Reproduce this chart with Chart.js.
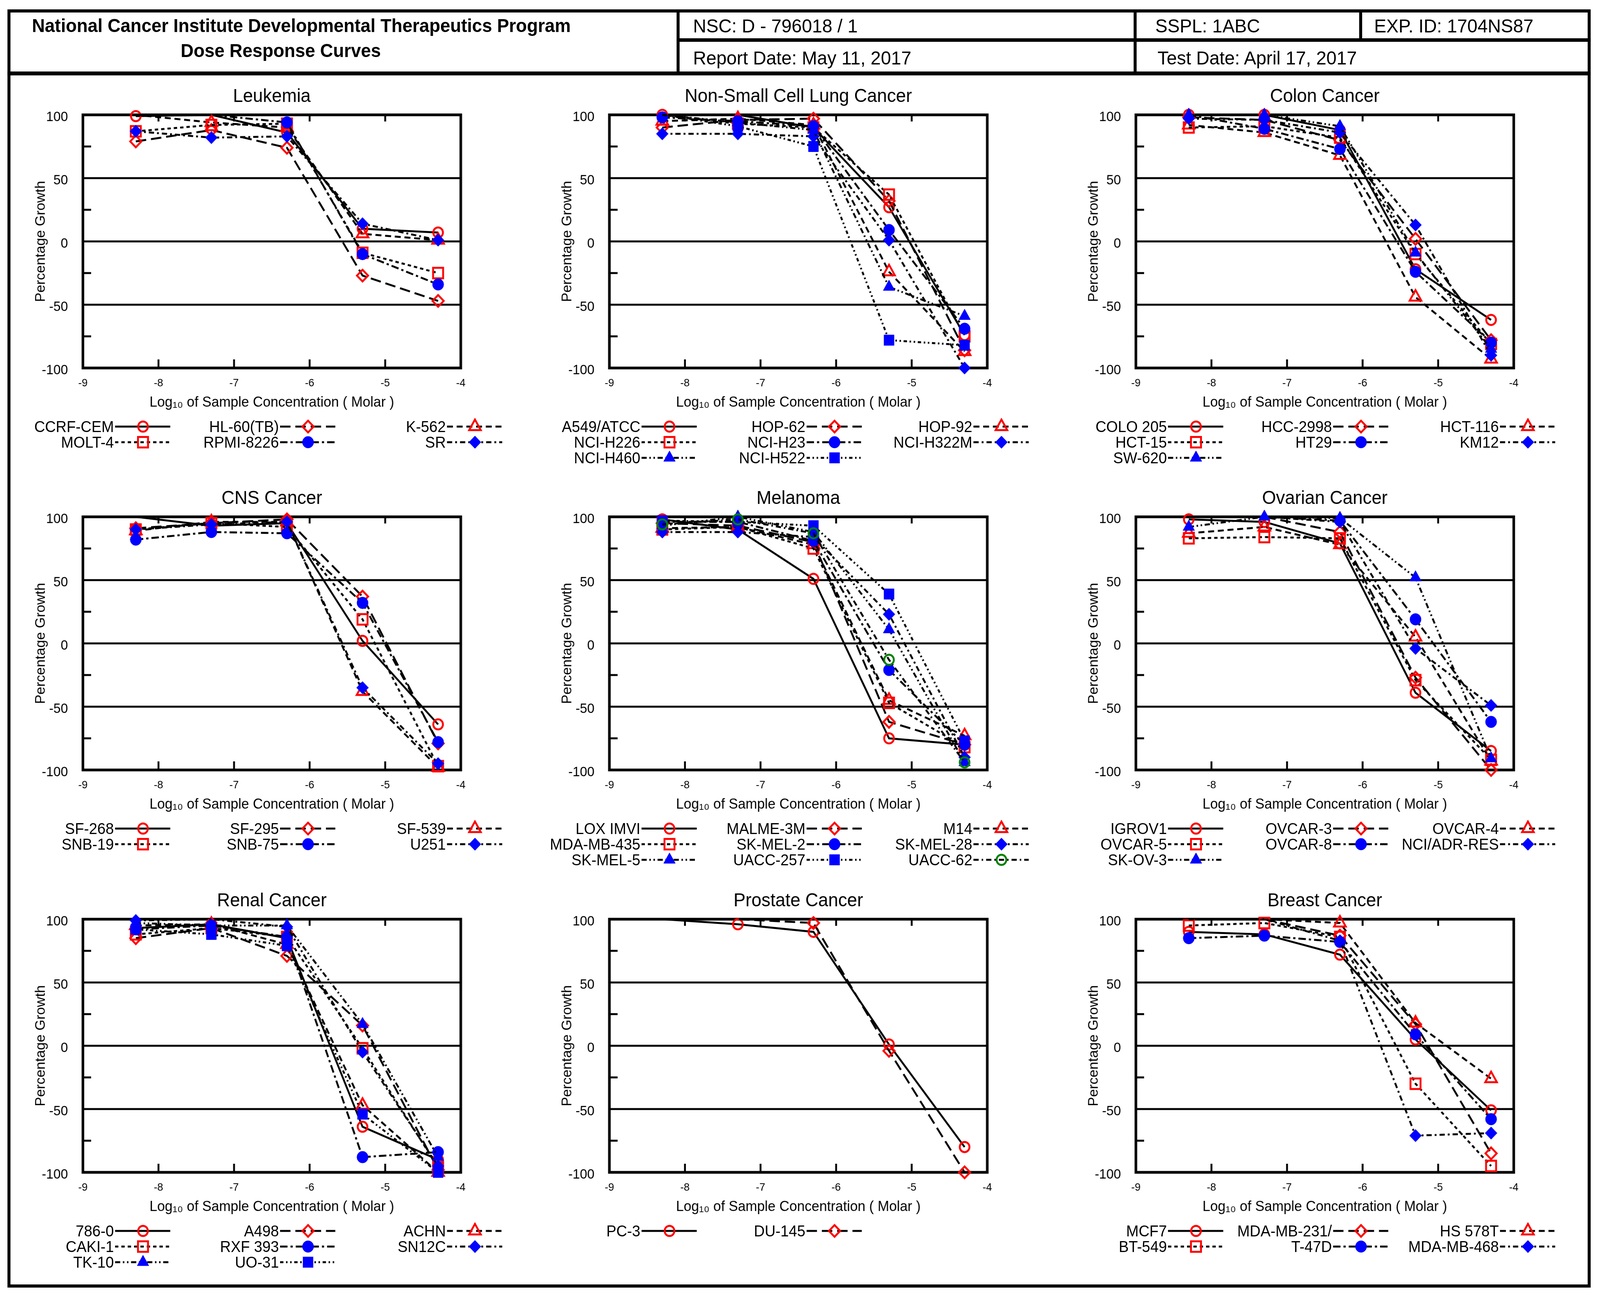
<!DOCTYPE html>
<html>
<head>
<meta charset="utf-8">
<script src="https://cdn.jsdelivr.net/npm/chart.js@4.4.1/dist/chart.umd.min.js"></script>
<style>
  html, body { margin: 0; padding: 0; }
  body { background: #fff; width: 100vw; height: 3315px; position: relative; overflow: hidden;
         font-family: 'Liberation Sans', Arial, sans-serif; color: #000; }
  #page { position: absolute; left: 0; top: 0; width: 4285px; height: 3315px; transform-origin: 0 0; }
  .bar { position: absolute; background: #000; }
  .ht { position: absolute; white-space: nowrap; font-size: 49px; line-height: 49px; }
  .tt { position: absolute; white-space: nowrap; font-size: 48px; line-height: 48px; font-weight: bold; width: 2000px; text-align: center; }
  .panel { position: absolute; }
  .lg { position: absolute; white-space: nowrap; font-size: 40px; line-height: 40px; text-align: right; width: 600px; }
  .sw { position: absolute; }
</style>
</head>
<body>
<div id="page">
<div style="position:absolute;left:20px;top:24px;width:4240px;height:3272px;border:8px solid #000;box-sizing:border-box"></div>
<div class="bar" style="left:20px;top:183px;width:4240px;height:10px"></div>
<div class="bar" style="left:1812px;top:24px;width:8px;height:164px"></div>
<div class="bar" style="left:3036px;top:24px;width:8px;height:164px"></div>
<div class="bar" style="left:3640px;top:24px;width:8px;height:80px"></div>
<div class="bar" style="left:1812px;top:98px;width:2448px;height:9px"></div>

<div class="tt" style="left:-193px;top:42px">National Cancer Institute Developmental Therapeutics Program</div>
<div class="tt" style="left:-248px;top:106px">Dose Response Curves</div>
<div class="ht" style="left:1856px;top:42px">NSC: D - 796018 / 1</div>
<div class="ht" style="left:3094px;top:42px">SSPL: 1ABC</div>
<div class="ht" style="left:3680px;top:42px">EXP. ID: 1704NS87</div>
<div class="ht" style="left:1856px;top:124px">Report Date: May 11, 2017</div>
<div class="ht" style="left:3100px;top:124px">Test Date: April 17, 2017</div>
</div>

<script>
// log10 molar concentrations tested
const doses = [-8.3, -7.3, -6.3, -5.3, -4.3];

const panelTitles = ['Leukemia', 'Non-Small Cell Lung Cancer', 'Colon Cancer',
                     'CNS Cancer', 'Melanoma', 'Ovarian Cancer',
                     'Renal Cancer', 'Prostate Cancer', 'Breast Cancer'];

const leukemiaLines = ['CCRF-CEM', 'HL-60(TB)', 'K-562', 'MOLT-4', 'RPMI-8226', 'SR'];
const leukemiaGrowth = [
  [99, 103, 86, 10, 7],
  [79, 88, 74, -27, -47],
  [103, 94, 90, 6, 1],
  [87, 92, 93, -9, -25],
  [103, 102, 94, -10, -34],
  [87, 82, 83, 14, 1]
];

const lungLines = ['A549/ATCC', 'HOP-62', 'HOP-92', 'NCI-H226', 'NCI-H23', 'NCI-H322M', 'NCI-H460', 'NCI-H522'];
const lungGrowth = [
  [100, 103, 90, 27, -74],
  [90, 96, 97, 32, -86],
  [95, 97, 92, -24, -87],
  [102, 93, 90, 37, -75],
  [98, 95, 91, 9, -69],
  [85, 85, 83, 1, -100],
  [102, 94, 88, -36, -59],
  [102, 91, 75, -78, -82]
];

const colonLines = ['COLO 205', 'HCC-2998', 'HCT-116', 'HCT-15', 'HT29', 'KM12', 'SW-620'];
const colonGrowth = [
  [100, 100, 88, -22, -62],
  [98, 96, 80, 2, -78],
  [92, 86, 68, -44, -93],
  [90, 91, 82, -10, -81],
  [103, 89, 73, -24, -80],
  [97, 96, 86, 13, -90],
  [100, 100, 91, -9, -85]
];

const cnsLines = ['SF-268', 'SF-295', 'SF-539', 'SNB-19', 'SNB-75', 'U251'];
const cnsGrowth = [
  [103, 93, 95, 2, -64],
  [91, 95, 98, 37, -79],
  [89, 96, 96, -38, -98],
  [90, 95, 92, 19, -97],
  [82, 88, 87, 32, -78],
  [90, 94, 96, -35, -95]
];

const melanomaLines = ['LOX IMVI', 'MALME-3M', 'M14', 'MDA-MB-435', 'SK-MEL-2', 'SK-MEL-28', 'SK-MEL-5', 'UACC-257', 'UACC-62'];
const melanomaGrowth = [
  [98, 90, 51, -75, -80],
  [95, 93, 80, -62, -80],
  [91, 92, 78, -45, -73],
  [90, 92, 75, -47, -82],
  [96, 96, 81, -21, -80],
  [88, 88, 84, 23, -90],
  [93, 100, 88, 11, -94],
  [97, 96, 93, 39, -77],
  [94, 98, 87, -13, -94]
];

const ovarianLines = ['IGROV1', 'OVCAR-3', 'OVCAR-4', 'OVCAR-5', 'OVCAR-8', 'NCI/ADR-RES', 'SK-OV-3'];
const ovarianGrowth = [
  [98, 96, 79, -39, -85],
  [103, 102, 88, -27, -100],
  [87, 92, 78, 5, -93],
  [83, 84, 83, -29, -92],
  [103, 102, 97, 19, -62],
  [103, 102, 96, -4, -49],
  [92, 100, 99, 52, -91]
];

const renalLines = ['786-0', 'A498', 'ACHN', 'CAKI-1', 'RXF 393', 'SN12C', 'TK-10', 'UO-31'];
const renalGrowth = [
  [93, 96, 85, -64, -90],
  [85, 93, 71, 16, -98],
  [95, 96, 80, -47, -100],
  [88, 93, 86, -2, -96],
  [92, 95, 86, -88, -84],
  [99, 102, 94, -5, -95],
  [97, 95, 95, 17, -88],
  [92, 88, 79, -54, -100]
];

const prostateLines = ['PC-3', 'DU-145'];
const prostateGrowth = [
  [103, 96, 90, 1, -80],
  [103, 102, 97, -4, -100]
];

const breastLines = ['MCF7', 'MDA-MB-231/', 'HS 578T', 'BT-549', 'T-47D', 'MDA-MB-468'];
const breastGrowth = [
  [90, 88, 72, 5, -51],
  [102, 102, 87, 17, -85],
  [103, 103, 97, 18, -26],
  [95, 97, 86, -30, -95],
  [85, 87, 82, 9, -58],
  [103, 102, 83, -71, -69]
];

const yTicks = [-100, -50, 0, 50, 100];
const xTicks = [-9, -8, -7, -6, -5, -4];

// line / marker style by position of the cell line in its panel
const styleDash = [[], [28, 13], [16, 10], [9, 8], [20, 8, 6, 8], [14, 8, 5, 8], [14, 7, 4, 7, 4, 7], [9, 7, 4, 7, 4, 7], [14, 8, 4, 8]];
const styleShape = ['circle', 'rectRot', 'triangle', 'rect', 'circle', 'rectRot', 'triangle', 'rect', 'circle'];
const styleColor = ['#ff0000', '#ff0000', '#ff0000', '#ff0000', '#0000ff', '#0000ff', '#0000ff', '#0000ff', '#008000'];
const styleFilled = [false, false, false, false, true, true, true, true, false];
const styleRadius = [13, 15, 18, 19, 15, 16, 18, 19, 13];

const FONT = "'Liberation Sans', Arial, 'DejaVu Sans', sans-serif";
const PLOT_W = 1012, PLOT_H = 648;
const colLeft = [222, 1632, 3042];
const rowTop = [294, 1323, 2353];
const AX_L = 170, AX_R = 170, TITLE_H = 92, AX_B = 120;
const legendCols = [83, 525, 972];

const page = document.getElementById('page');
// the window may be narrower than the 4285 px sheet: squeeze the sheet to fit its width
page.style.transform = 'scaleX(' + Math.min(1, window.innerWidth / 4285) + ')';

const framePlugin = {
  id: 'frame',
  beforeDatasetsDraw(chart) {
    const { ctx, chartArea: a, scales } = chart;
    const x = scales.x, y = scales.y;
    const seg = (x1, y1, x2, y2) => { ctx.beginPath(); ctx.moveTo(x1, y1); ctx.lineTo(x2, y2); ctx.stroke(); };
    ctx.save();
    ctx.strokeStyle = '#000';
    ctx.lineWidth = 5;
    [50, 0, -50].forEach(v => { const py = y.getPixelForValue(v); seg(a.left, py, a.right, py); });
    [75, 25, -25, -75].forEach(v => { const py = y.getPixelForValue(v); seg(a.left, py, a.left + 22, py); });
    [-8, -7, -6, -5].forEach(v => {
      const px = x.getPixelForValue(v);
      seg(px, a.top, px, a.top + 17);
      seg(px, a.bottom, px, a.bottom - 22);
    });
    ctx.lineWidth = 7;
    ctx.strokeRect(a.left, a.top, a.right - a.left, a.bottom - a.top);
    ctx.restore();
  }
};

function markerSvg(k, cx, cy) {
  const r = styleRadius[k], col = styleColor[k];
  const fill = styleFilled[k] ? col : 'none';
  const sw = styleFilled[k] ? 1 : 5;
  const att = `fill="${fill}" stroke="${col}" stroke-width="${sw}"`;
  if (styleShape[k] === 'circle') return `<circle cx="${cx}" cy="${cy}" r="${r}" ${att}/>`;
  if (styleShape[k] === 'rect') {
    const h = r * Math.SQRT1_2;
    return `<rect x="${cx - h}" y="${cy - h}" width="${2 * h}" height="${2 * h}" ${att}/>`;
  }
  if (styleShape[k] === 'rectRot')
    return `<polygon points="${cx},${cy - r} ${cx + r},${cy} ${cx},${cy + r} ${cx - r},${cy}" ${att}/>`;
  const s = r * Math.sin(Math.PI / 3);
  return `<polygon points="${cx},${cy - r} ${cx + s},${cy + r / 2} ${cx - s},${cy + r / 2}" ${att}/>`;
}

function makePanel(i, names, series) {
  const PL = colLeft[i % 3], PT = rowTop[Math.floor(i / 3)];
  const cv = document.createElement('canvas');
  cv.className = 'panel';
  cv.width = AX_L + PLOT_W + AX_R;
  cv.height = TITLE_H + PLOT_H + AX_B;
  cv.style.left = (PL - AX_L) + 'px';
  cv.style.top = (PT - TITLE_H) + 'px';
  cv.style.width = cv.width + 'px';
  cv.style.height = cv.height + 'px';
  page.appendChild(cv);

  new Chart(cv, {
    type: 'scatter',
    data: {
      datasets: series.map((vals, k) => ({
        label: names[k],
        data: doses.map((d, j) => ({ x: d, y: Math.min(vals[j], 100) })),
        showLine: true,
        borderColor: '#000',
        borderWidth: 5,
        borderDash: styleDash[k],
        tension: 0,
        pointStyle: styleShape[k],
        pointRadius: vals.map(v => v > 100.5 ? 0 : styleRadius[k]),
        pointBorderColor: styleColor[k],
        pointBackgroundColor: styleFilled[k] ? styleColor[k] : 'rgba(0,0,0,0)',
        pointBorderWidth: styleFilled[k] ? 1 : 5,
        clip: false,
        order: series.length - k
      }))
    },
    options: {
      responsive: false,
      devicePixelRatio: 1,
      animation: false,
      events: [],
      layout: { padding: 0 },
      plugins: {
        legend: { display: false },
        tooltip: { enabled: false },
        title: {
          display: true,
          text: panelTitles[i],
          color: '#000',
          font: { size: 48, family: FONT, weight: 'normal' },
          padding: { top: 17, bottom: 17.4 }
        }
      },
      scales: {
        x: {
          type: 'linear', position: 'bottom', min: xTicks[0], max: xTicks[xTicks.length - 1],
          afterBuildTicks: s => { s.ticks = xTicks.map(v => ({ value: v })); },
          ticks: { color: '#000', font: { size: 28, family: FONT }, padding: 22, maxRotation: 0 },
          grid: { display: false, drawTicks: false },
          border: { display: false },
          title: {
            display: true, text: 'Log\u2081\u2080 of Sample Concentration ( Molar )', color: '#000',
            font: { size: 37, family: FONT }, padding: { top: 0, bottom: 9 }
          },
          afterFit: s => { s.height = AX_B; }
        },
        y: {
          type: 'linear', position: 'left', min: yTicks[0], max: yTicks[yTicks.length - 1],
          afterBuildTicks: s => { s.ticks = yTicks.map(v => ({ value: v })); },
          ticks: { color: '#000', font: { size: 35, family: FONT }, padding: 40, labelOffset: 6 },
          grid: { display: false, drawTicks: false },
          border: { display: false },
          title: {
            display: true, text: 'Percentage Growth', color: '#000',
            font: { size: 36, family: FONT }, padding: { top: 36, bottom: 0 }
          },
          afterFit: s => { s.width = AX_L; }
        },
        yr: {
          type: 'linear', position: 'right', min: -100, max: 100,
          ticks: { display: false },
          grid: { display: false, drawTicks: false },
          border: { display: false },
          afterFit: s => { s.width = AX_R; }
        }
      }
    },
    plugins: [framePlugin]
  });

  // legend: three columns of "name ——marker——"
  names.forEach((name, k) => {
    const cy = PT + PLOT_H + 150 + Math.floor(k / 3) * 40;
    const lx = PL + legendCols[k % 3];
    const lab = document.createElement('div');
    lab.className = 'lg';
    lab.textContent = name;
    lab.style.left = (lx - 600) + 'px';
    lab.style.top = (cy - 20) + 'px';
    page.appendChild(lab);
    const dash = styleDash[k].length ? `stroke-dasharray="${styleDash[k].join(' ')}"` : '';
    const sw = document.createElement('div');
    sw.className = 'sw';
    sw.style.left = (lx + 3) + 'px';
    sw.style.top = (cy - 22) + 'px';
    sw.innerHTML = `<svg width="150" height="44"><line x1="0" y1="22" x2="148" y2="22" stroke="#000" stroke-width="5" ${dash}/>${markerSvg(k, 75, 22)}</svg>`;
    page.appendChild(sw);
  });
}

makePanel(0, leukemiaLines, leukemiaGrowth);
makePanel(1, lungLines, lungGrowth);
makePanel(2, colonLines, colonGrowth);
makePanel(3, cnsLines, cnsGrowth);
makePanel(4, melanomaLines, melanomaGrowth);
makePanel(5, ovarianLines, ovarianGrowth);
makePanel(6, renalLines, renalGrowth);
makePanel(7, prostateLines, prostateGrowth);
makePanel(8, breastLines, breastGrowth);
</script>
</body>
</html>
